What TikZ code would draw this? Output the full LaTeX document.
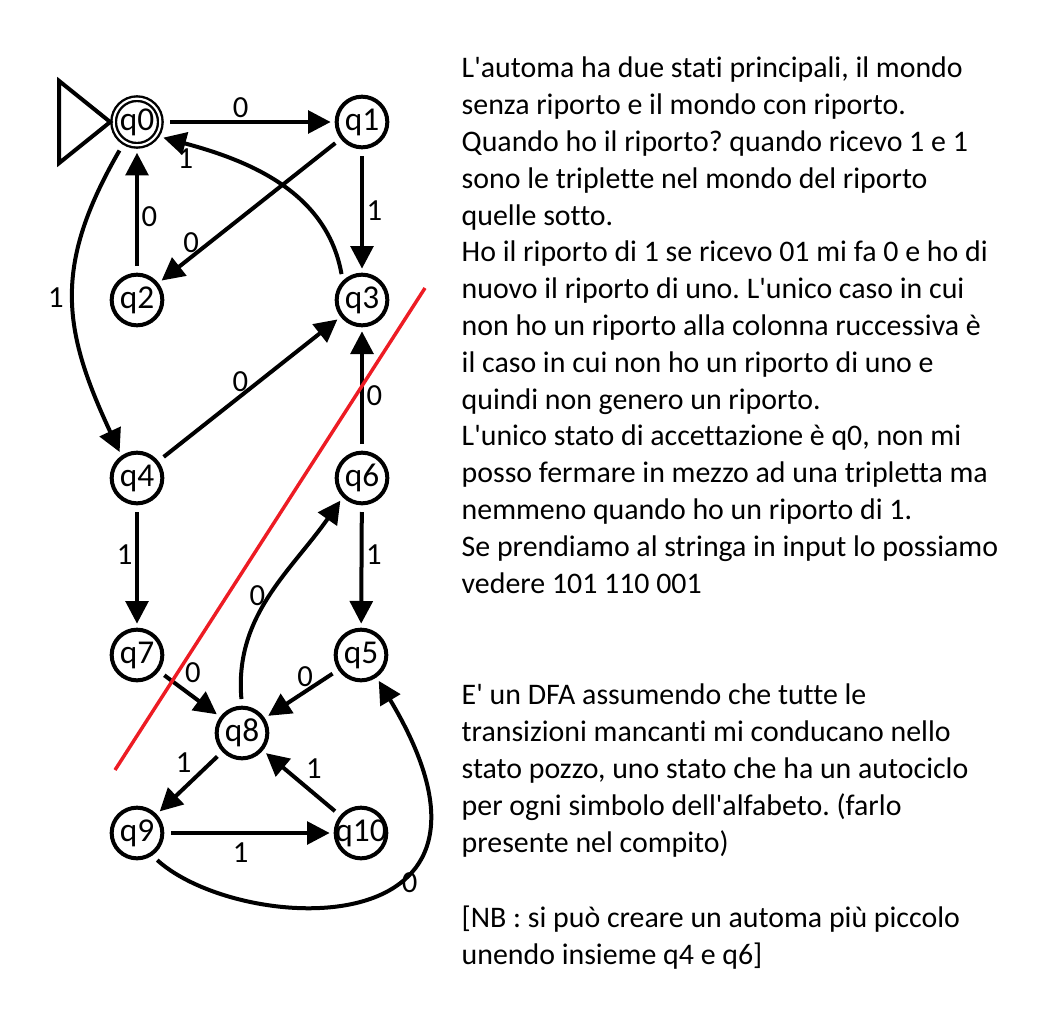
\documentclass[tikz,border=0pt]{standalone}
\usepackage{fontspec}
\setmainfont{Carlito}[Ligatures={TeXOff,NoCommon}]
\usepackage{tikz}
\usetikzlibrary{arrows.meta}
\definecolor{CutRed}{HTML}{ED1C24}
\frenchspacing

\begin{document}
\begin{tikzpicture}[
  x=0.75pt, y=0.75pt,
  state/.style={circle, draw, line width=3pt, minimum size=38pt, inner sep=0pt,
                font=\fontsize{25}{25}\selectfont},
  accept/.style={state, double, line width=1.8pt, double distance=1.6pt,
                 minimum size=35pt, outer sep=2.6pt},
  arr/.style={-{Triangle[length=17pt, width=17pt]}, line width=3pt,
              shorten <=5pt, shorten >=3pt},
  lbl/.style={font=\fontsize{23}{23}\selectfont, inner sep=2pt},
  note/.style={anchor=base west, align=left, font=\fontsize{22.4}{27.6}\selectfont},
  cut/.style={line width=2.6pt, color=CutRed},
]
  \useasboundingbox (0,0) rectangle (1046,-1018);

  % States
  \node[accept] (q0) at (137,-122) {q0};
  \node[state] (q1) at (362,-122) {q1};
  \node[state] (q2) at (137,-300) {q2};
  \node[state] (q3) at (362,-300) {q3};
  \node[state] (q4) at (137,-478) {q4};
  \node[state] (q6) at (362,-478) {q6};
  \node[state] (q7) at (137,-655) {q7};
  \node[state] (q5) at (361,-655) {q5};
  \node[state] (q8) at (242,-733) {q8};
  \node[state] (q9) at (137,-833) {q9};
  \node[state] (q10) at (361,-833) {\makebox[0pt]{q10}};

  % Start marker
  \draw[line width=3pt] (q0.west) -- ++(-51,41) -- ++(0,-82) -- cycle;

  % World without carry
  \draw[arr] (q0) -- node[lbl, above, pos=0.45] {0} (q1);
  \draw[arr] (q1) -- node[lbl, right] {1} (q3);
  \draw[arr] (q2) -- node[lbl, right, pos=0.45] {0} (q0);
  \draw[arr] (q1) -- node[lbl, above, pos=0.82] {0} (q2);
  \draw[arr] (q3.135) to[out=100, in=-15] node[lbl, below, pos=0.9] {1} (q0.-33);
  \draw[arr] (q0.238) to[out=240, in=115, looseness=1.15] node[lbl, left=4pt] {1} (q4.125);
  \draw[arr] (q4) -- node[lbl, above, pos=0.45] {0} (q3);
  \draw[arr] (q6) -- node[lbl, right, pos=0.45] {0} (q3);

  % World with carry
  \draw[arr] (q4) -- node[lbl, left, pos=0.4] {1} (q7);
  \draw[arr] (q6) -- node[lbl, right, pos=0.4] {1} (q5);
  \draw[arr] (q8.north) to[out=95, in=235] node[lbl, left, pos=0.5] {0} (q6.225);
  \draw[arr] (q7) -- node[lbl, above right, pos=0.35] {0} (q8);
  \draw[arr] (q5) -- node[lbl, above, pos=0.45] {0} (q8);
  \draw[arr] (q8) -- node[lbl, above left, pos=0.4] {1} (q9);
  \draw[arr] (q10) -- node[lbl, above right, pos=0.5] {1} (q8);
  \draw[arr] (q9) -- node[lbl, below=4pt, pos=0.45] {1} (q10);
  \draw[arr] (q9.-56) .. controls (240,-935) and (540,-950) .. node[lbl, right=5pt, pos=0.59] {0} (q5.-55);

  % Cut between the two worlds
  \draw[cut] (115,-770) -- (425,-288);

  % Notes
  \node[note] (txtA) at (457,-593) {L'automa ha due stati principali, il mondo\\
    senza riporto e il mondo con riporto.\\
    Quando ho il riporto? quando ricevo 1 e 1\\
    sono le triplette nel mondo del riporto\\
    quelle sotto.\\
    Ho il riporto di 1 se ricevo 01 mi fa 0 e ho di\\
    nuovo il riporto di uno. L'unico caso in cui\\
    non ho un riporto alla colonna ruccessiva è\\
    il caso in cui non ho un riporto di uno e\\
    quindi non genero un riporto.\\
    L'unico stato di accettazione è q0, non mi\\
    posso fermare in mezzo ad una tripletta ma\\
    nemmeno quando ho un riporto di 1.\\
    Se prendiamo al stringa in input lo possiamo\\
    vedere 101 110 001};
  \node[note] (txtB) at (457,-852) {E' un DFA assumendo che tutte le\\
    transizioni mancanti mi conducano nello\\
    stato pozzo, uno stato che ha un autociclo\\
    per ogni simbolo dell'alfabeto. (farlo\\
    presente nel compito)};
  \node[note] (txtC) at (457,-964) {[NB : si può creare un automa più piccolo\\
    unendo insieme q4 e q6]};
\end{tikzpicture}
\end{document}
